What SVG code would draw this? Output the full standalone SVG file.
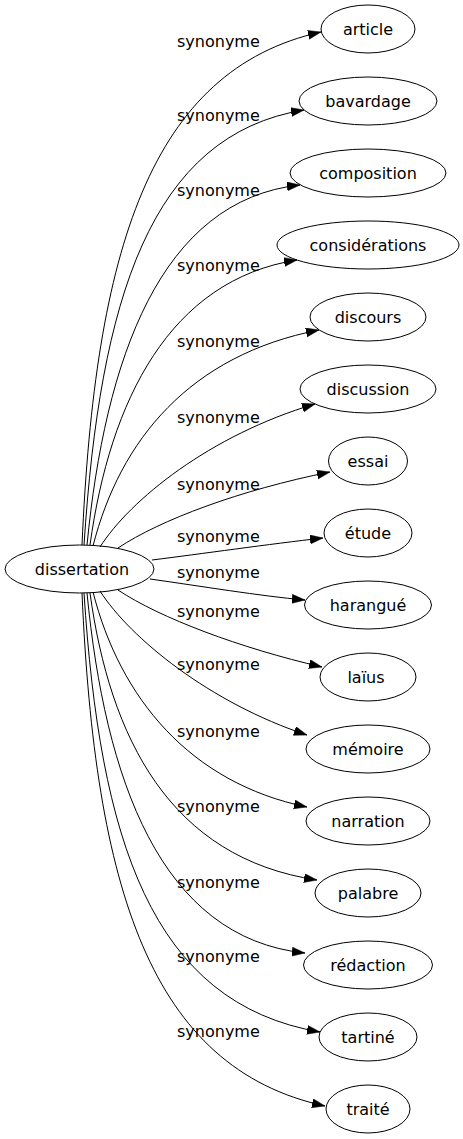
<svg xmlns="http://www.w3.org/2000/svg" width="463" height="1139" viewBox="0 0 463 1139">
<style>
text{font-family:"DejaVu Sans","Liberation Sans",sans-serif;font-size:16px;fill:#000}
.n text{text-anchor:middle}
.n ellipse{fill:none;stroke:#000;stroke-width:1}
#edges path{fill:none;stroke:#000;stroke-width:1;marker-end:url(#arr)}
</style>
<defs>
<marker id="arr" markerUnits="userSpaceOnUse" markerWidth="14" markerHeight="10" refX="13" refY="4.5" orient="auto">
<path d="M0,0 L13,4.5 L0,9 Z" fill="#000" stroke="#000" stroke-width="0.5"/>
</marker>
</defs>
<rect width="463" height="1139" fill="#fff"/>
<g id="edges">
<path d="M82,545 C95,250 150,70 321,32"/>
<path d="M84,545 C100,300 150,135 304,110"/>
<path d="M87,545 C105,360 160,200 300,185"/>
<path d="M90,545 C110,400 170,280 297,260"/>
<path d="M93,546 C120,440 190,355 319,330"/>
<path d="M100,547 C130,500 210,435 315,404"/>
<path d="M118,548 C160,520 240,490 330,472"/>
<path d="M152,560 C200,554 270,544 323,538"/>
<path d="M150,579 C200,586 260,596 305,600"/>
<path d="M118,590 C160,618 240,648 322,667"/>
<path d="M100,591 C130,638 210,703 307,735"/>
<path d="M93,592 C120,698 190,783 307,807"/>
<path d="M90,593 C110,738 170,858 317,880"/>
<path d="M87,593 C105,778 160,938 305,953"/>
<path d="M84,593 C100,838 150,1003 320,1032"/>
<path d="M82,593 C95,888 150,1068 325,1106"/>
<g id="edge-labels">
<text x="177" y="47">synonyme</text>
<text x="177" y="121">synonyme</text>
<text x="177" y="196">synonyme</text>
<text x="177" y="271">synonyme</text>
<text x="177" y="347">synonyme</text>
<text x="177" y="423">synonyme</text>
<text x="177" y="490">synonyme</text>
<text x="177" y="542">synonyme</text>
<text x="177" y="578">synonyme</text>
<text x="177" y="617">synonyme</text>
<text x="177" y="670">synonyme</text>
<text x="177" y="737">synonyme</text>
<text x="177" y="812">synonyme</text>
<text x="177" y="888">synonyme</text>
<text x="177" y="962">synonyme</text>
<text x="177" y="1037">synonyme</text>
</g>
</g>
<g id="dissertation" class="n"><ellipse cx="79.5" cy="569" rx="74.5" ry="24"/><text x="82" y="575">dissertation</text></g>
<g id="article" class="n"><ellipse cx="368" cy="29" rx="47" ry="24"/><text x="368" y="35">article</text></g>
<g id="bavardage" class="n"><ellipse cx="368" cy="101" rx="69" ry="24"/><text x="368" y="107">bavardage</text></g>
<g id="composition" class="n"><ellipse cx="368" cy="173" rx="78" ry="24"/><text x="368" y="179">composition</text></g>
<g id="considerations" class="n"><ellipse cx="368" cy="245" rx="91" ry="24"/><text x="368" y="251">considérations</text></g>
<g id="discours" class="n"><ellipse cx="368" cy="317" rx="58" ry="24"/><text x="368" y="323">discours</text></g>
<g id="discussion" class="n"><ellipse cx="368" cy="389" rx="68" ry="24"/><text x="368" y="395">discussion</text></g>
<g id="essai" class="n"><ellipse cx="368" cy="461" rx="39.5" ry="24"/><text x="368" y="467">essai</text></g>
<g id="etude" class="n"><ellipse cx="368" cy="533" rx="44" ry="24"/><text x="368" y="539">étude</text></g>
<g id="harangue" class="n"><ellipse cx="368" cy="605" rx="63.5" ry="24"/><text x="368" y="611">harangué</text></g>
<g id="laius" class="n"><ellipse cx="368" cy="677" rx="48" ry="24"/><text x="366" y="683">laïus</text></g>
<g id="memoire" class="n"><ellipse cx="368" cy="749" rx="62" ry="24"/><text x="368" y="755">mémoire</text></g>
<g id="narration" class="n"><ellipse cx="368" cy="821" rx="62" ry="24"/><text x="368" y="827">narration</text></g>
<g id="palabre" class="n"><ellipse cx="368" cy="893" rx="53" ry="24"/><text x="368" y="899">palabre</text></g>
<g id="redaction" class="n"><ellipse cx="368" cy="965" rx="64.5" ry="24"/><text x="368" y="971">rédaction</text></g>
<g id="tartine" class="n"><ellipse cx="368" cy="1037" rx="49" ry="24"/><text x="368" y="1043">tartiné</text></g>
<g id="traite" class="n"><ellipse cx="368" cy="1109" rx="42" ry="24"/><text x="368" y="1115">traité</text></g>
</svg>
